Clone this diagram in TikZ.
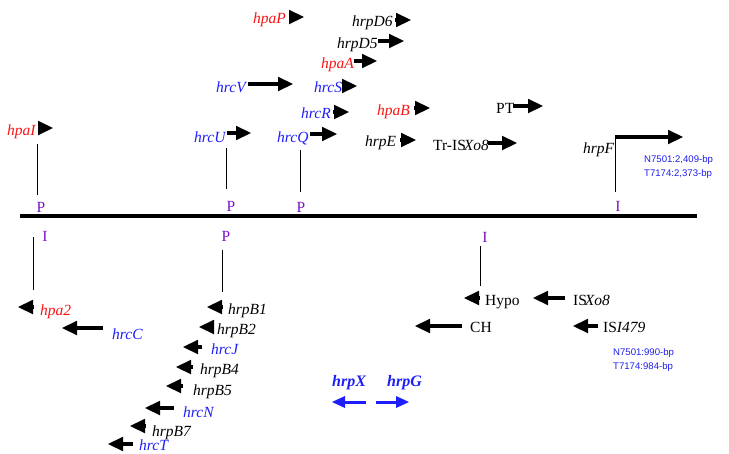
\documentclass[tikz,border=0pt]{standalone}
\usepackage{fontspec}
\setmainfont{Liberation Serif}
\newfontfamily\sansf{Liberation Sans}
\usetikzlibrary{arrows.meta}
\definecolor{gred}{RGB}{250,20,20}
\definecolor{gblue}{RGB}{30,30,250}
\definecolor{ppl}{RGB}{120,20,200}
\definecolor{sblue}{RGB}{30,30,235}
\tikzset{
  lab/.style={anchor=base west, inner sep=0pt, font=\fontsize{15.5}{17}\selectfont\itshape},
  redlab/.style={lab, text=gred},
  bluelab/.style={lab, text=gblue},
  uplab/.style={anchor=base west, inner sep=0pt, font=\fontsize{15.5}{17}\selectfont},
  promlab/.style={anchor=base, inner sep=0pt, font=\fontsize{15.5}{17}\selectfont, text=ppl},
  note/.style={anchor=base west, inner sep=0pt, font=\sansf\fontsize{9.6}{11}\selectfont, text=sblue},
  boldlab/.style={anchor=base west, inner sep=0pt, font=\fontsize{16}{18}\selectfont\bfseries\itshape, text=gblue},
  genearr/.style={line width=3.4pt, -{Triangle[length=15pt 0 0,width=14.5pt 0 0,line width=0pt]}},
  bluearr/.style={draw=gblue, line width=3pt, -{Triangle[length=13pt 0 0,width=12pt 0 0,line width=0pt]}},
  stem/.style={line width=0.9pt},
  chrom/.style={line width=3.5pt},
}
\newcommand\gn[4]{\coordinate (#1t) at (#2,#4); \coordinate (#1h) at (#3,#4); \draw[genearr] (#1t) -- (#1h);}
\newcommand\bgn[4]{\coordinate (#1t) at (#2,#4); \coordinate (#1h) at (#3,#4); \draw[bluearr] (#1t) -- (#1h);}
\newcommand\stm[4]{\coordinate (#1a) at (#2,#3); \coordinate (#1b) at (#2,#4); \draw[stem] (#1a) -- (#1b);}
\begin{document}
\begin{tikzpicture}[x=1pt,y=-1pt]
\useasboundingbox (0,0) rectangle (729,453);
% chromosome
\coordinate (c1) at (20,216); \coordinate (c2) at (697,216);
\draw[chrom] (c1) -- (c2);
% upper labels
\node[redlab] (hpaP) at (253,23) {hpaP};
\node[lab] (hrpD6) at (352,26) {hrpD6};
\node[lab] (hrpD5) at (337,48) {hrpD5};
\node[redlab] (hpaA) at (321,68) {hpaA};
\node[bluelab] (hrcV) at (216,92) {hrcV};
\node[bluelab] (hrcS) at (314,92) {hrcS};
\node[bluelab] (hrcR) at (301,118) {hrcR};
\node[redlab] (hpaI) at (7,135) {hpaI};
\node[bluelab] (hrcU) at (194,142) {hrcU};
\node[bluelab] (hrcQ) at (277,142) {hrcQ};
\node[redlab] (hpaB) at (377,115) {hpaB};
\node[lab] (hrpE) at (365,146) {hrpE};
\node[uplab] (PT) at (496,113) {PT};
\node[uplab] (TrIS) at (433,150) {Tr-IS\kern-2pt\textit{Xo8}};
\node[lab] (hrpF) at (583,153) {hrpF};
\node[note] (n1) at (644,162) {N7501:2,409-bp};
\node[note] (n2) at (644,176) {T7174:2,373-bp};
% upper arrows
\gn{ahpaP}{289}{304}{17}
\gn{ahrpD6}{395}{411}{20}
\gn{ahrpD5}{378}{404}{41}
\gn{ahpaA}{354}{377}{61}
\gn{ahrcV}{248}{293}{84}
\gn{ahrcS}{342}{357}{86}
\gn{ahrcR}{333}{349}{112}
\gn{ahpaI}{38}{53}{128}
\gn{ahrcU}{227}{251}{133}
\gn{ahrcQ}{310}{337}{134}
\gn{ahpaB}{414}{430}{108}
\gn{ahrpE}{400}{416}{140}
\gn{aPT}{513}{543}{106}
\gn{aTr}{488}{517}{143}
\gn{ahrpF}{615}{683}{137}
% upper stems and promoters
\stm{s1}{37}{144}{195}
\stm{s2}{226}{148}{189}
\stm{s3}{300}{150}{192}
\stm{s4}{615}{139}{192}
\node[promlab] (p1) at (41,212) {P};
\node[promlab] (p2) at (231,211) {P};
\node[promlab] (p3) at (301,212) {P};
\node[promlab] (i1) at (618,211) {I};
% lower promoters and stems
\node[promlab] (i2) at (45,241) {I};
\node[promlab] (p4) at (226,241) {P};
\node[promlab] (i3) at (485,242) {I};
\stm{s5}{33}{237}{290}
\stm{s6}{222}{250}{292}
\stm{s7}{480}{246}{286}
% lower labels
\node[redlab] (hpa2) at (40,315) {hpa2};
\node[bluelab] (hrcC) at (112,339) {hrcC};
\node[lab] (hrpB1) at (228,314) {hrpB1};
\node[lab] (hrpB2) at (217,334) {hrpB2};
\node[bluelab] (hrcJ) at (211,354) {hrcJ};
\node[lab] (hrpB4) at (200,374) {hrpB4};
\node[lab] (hrpB5) at (193,395) {hrpB5};
\node[bluelab] (hrcN) at (183,417) {hrcN};
\node[lab] (hrpB7) at (152,436) {hrpB7};
\node[bluelab] (hrcT) at (139,450) {hrcT};
\node[uplab] (Hypo) at (485,305) {Hypo};
\node[uplab] (ISXo) at (573,305) {IS\kern-2pt\textit{Xo8}};
\node[uplab] (CH) at (470,332) {CH};
\node[uplab] (ISI) at (603,332) {IS\textit{I479}};
\node[note] (n3) at (613,355) {N7501:990-bp};
\node[note] (n4) at (613,369) {T7174:984-bp};
\node[boldlab] (hrpX) at (332,386) {hrpX};
\node[boldlab] (hrpG) at (387,386) {hrpG};
% lower arrows
\gn{ahpa2}{34}{18}{307}
\gn{ahrcC}{103}{62}{328}
\gn{ahrpB1}{223}{207}{307}
\gn{ahrpB2}{214}{199}{327}
\gn{ahrcJ}{202}{183}{347}
\gn{ahrpB4}{193}{176}{367}
\gn{ahrpB5}{183}{166}{386}
\gn{ahrcN}{174}{145}{408}
\gn{ahrpB7}{146}{130}{426}
\gn{ahrcT}{133}{108}{444}
\gn{aHypo}{480}{464}{298}
\gn{aISXo}{565}{533}{298}
\gn{aCH}{462}{415}{326}
\gn{aISI}{598}{573}{326}
\bgn{ahrpX}{366}{332}{402}
\bgn{ahrpG}{376}{409}{402}
\end{tikzpicture}
\end{document}
